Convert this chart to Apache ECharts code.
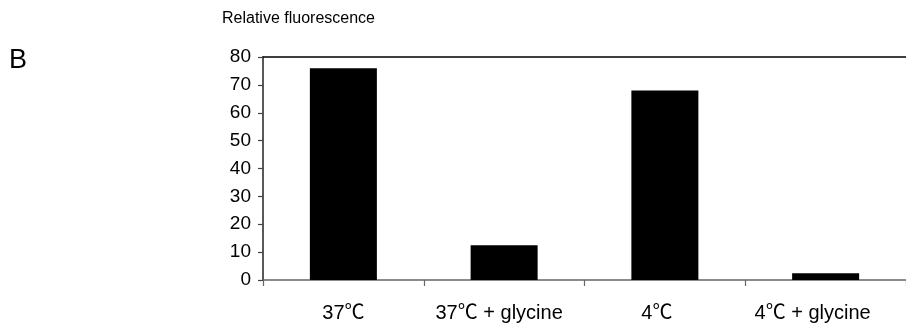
<!DOCTYPE html>
<html><head><meta charset="utf-8">
<script src="https://cdn.jsdelivr.net/npm/echarts@6/dist/echarts.min.js"></script>
<style>html,body{margin:0;padding:0;background:#fff}#c{width:906px;height:327px}</style>
</head><body><div id="c"></div>
<script>
var categories = ['37℃', '37℃ + glycine', '4℃', '4℃ + glycine'];
var values = [76, 12.5, 68, 2.4];
var yTicks = [0, 80, 10];
var chart = echarts.init(document.getElementById('c'));
var font = '"Liberation Sans", Arial, "Noto Sans CJK SC", sans-serif';
// slight leftward drift of the category labels in the reference
var labelShiftPad = [0, 10, 16, 26];
var catData = categories.map(function (c, i) {
  return { value: c, textStyle: { padding: [0, labelShiftPad[i], 0, 0] } };
});
chart.setOption({
  animation: false,
  backgroundColor: '#fff',
  grid: { left: 263, right: -7, top: 57, bottom: 47 },
  graphic: [
    { type: 'text', left: 222, top: 11, style: { text: 'Relative fluorescence', font: '16px ' + font, fill: '#000' } },
    { type: 'text', left: 9, top: 47, style: { text: 'B', font: '27px ' + font, fill: '#000' } }
  ],
  xAxis: [{
    type: 'category', data: catData, position: 'bottom',
    axisLine: { lineStyle: { color: '#666', width: 1.5 } },
    axisTick: { show: true, interval: 0, alignWithLabel: false, length: 6, lineStyle: { color: '#666', width: 1.2 } },
    axisLabel: { interval: 0, hideOverlap: false, margin: 23, fontSize: 20, color: '#000', fontFamily: font },
    splitLine: { show: false }
  }, {
    type: 'category', data: categories, position: 'top',
    axisLine: { lineStyle: { color: '#000', width: 1.5 } },
    axisTick: { show: false }, axisLabel: { show: false }
  }],
  yAxis: {
    type: 'value', min: yTicks[0], max: yTicks[1], interval: yTicks[2],
    axisLine: { show: true, lineStyle: { color: '#222', width: 1.5 } },
    axisTick: { show: true, length: 5, lineStyle: { color: '#444', width: 1.2 } },
    axisLabel: { margin: 12, fontSize: 19, color: '#000', fontFamily: font },
    splitLine: { show: false }
  },
  series: [{
    type: 'bar', data: values, barWidth: 67,
    itemStyle: { color: '#000' }
  }]
});
</script></body></html>
